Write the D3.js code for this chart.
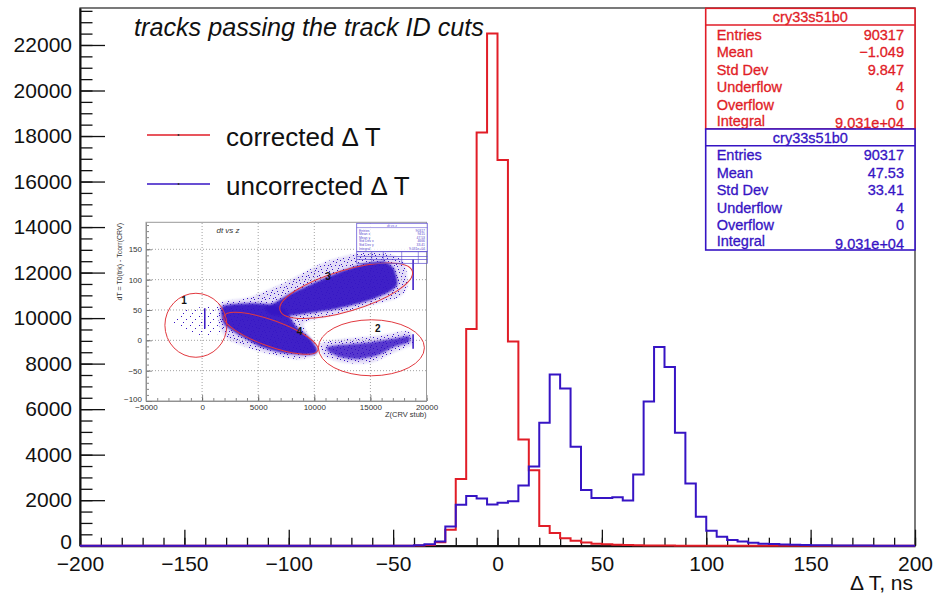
<!DOCTYPE html>
<html lang="en">
<head>
<meta charset="UTF-8" />
<title>Delta T</title>
<script src="https://cdn.jsdelivr.net/npm/d3@7"></script>
<style>
  body { margin: 0; background: #fff; }
  svg { display: block; font-family: "Liberation Sans", Arial, Helvetica, sans-serif; }
</style>
</head>
<body>
<svg id="chart" width="934" height="593"></svg>
<script>
// histogram binning: 80 bins of 5 ns from -200 to 200
const binStart = -200;
const binWidth = 5;

const corrected = [
  0, 0, 0, 0, 0, 0, 0, 0, 0, 0,
  0, 0, 0, 0, 0, 0, 0, 0, 0, 0,
  0, 0, 0, 0, 0, 0, 0, 0, 0, 0,
  0, 0, 5, 30, 150, 700, 2935, 9520, 18150, 22500,
  16950, 8970, 4665, 3310, 870, 555, 330, 215, 136, 90,
  60, 40, 28, 18, 12, 8, 5, 3, 2, 1,
  0, 0, 0, 0, 0, 0, 0, 0, 0, 0,
  0, 0, 0, 0, 0, 0, 0, 0, 0, 0
];
const uncorrected = [
  0, 0, 0, 0, 0, 0, 0, 0, 0, 0,
  0, 0, 0, 0, 0, 0, 0, 0, 0, 0,
  0, 0, 0, 0, 0, 0, 0, 0, 0, 0,
  0, 2, 15, 60, 180, 840, 1800, 2180, 2070, 1815,
  1890, 1950, 2650, 3480, 5400, 7520, 6910, 4345, 2450, 2095,
  2100, 2125, 1985, 3130, 6335, 8730, 7850, 4960, 2730, 1275,
  660, 395, 250, 180, 130, 90, 70, 50, 38, 28,
  20, 15, 10, 8, 5, 4, 3, 2, 2, 1
];

const xTicksMajor = [-200, -150, -100, -50, 0, 50, 100, 150, 200];
const yTicksMajor = [0, 2000, 4000, 6000, 8000, 10000, 12000, 14000, 16000, 18000, 20000, 22000];

const statLabels = ["Entries", "Mean", "Std Dev", "Underflow", "Overflow", "Integral"];
const statsCorrected = ["90317", "\u22121.049", "9.847", "4", "0", "9.031e+04"];
const statsUncorrected = ["90317", "47.53", "33.41", "4", "0", "9.031e+04"];
const statsName = "cry33s51b0";

// inset: dt vs z (regions, [z, dT])
const insetXTicks = [-5000, 0, 5000, 10000, 15000, 20000];
const insetYTicks = [-100, -50, 0, 50, 100, 150];
const coreLower = [[1881,57],[4269,61],[6060,59],[7254,52],[7851,38],[8448,22],[9642,3],[10239,-14],[10090,-22],[9045,-24],[7254,-21],[5164,-10],[3373,8],[2030,25],[1731,40]];
const coreUpper = [[5600,54],[6657,64],[7851,77],[9642,92],[12030,111],[14418,126],[16209,130],[17104,118],[17403,92],[16507,78],[14418,63],[12030,52],[9642,45],[7552,40],[6158,42]];
const coreRight = [[11134,-11],[12627,-7],[15015,-3],[17104,3],[18447,7],[18447,-3],[17104,-11],[15612,-25],[13821,-31],[12328,-28],[11283,-19]];
const haloMain = [[1582,61],[4269,71],[7254,94],[10836,128],[13821,143],[16507,143],[18000,128],[18298,89],[17403,70],[14418,55],[11134,39],[9045,27],[10239,-20],[8448,-31],[5164,-18],[2478,0],[1582,22]];
const haloRight = [[10537,-6],[12627,2],[15612,7],[18447,15],[18746,-6],[17104,-20],[15015,-37],[12627,-37],[10836,-26]];
const haloLeft = [[-1403,50],[1881,58],[2179,22],[687,6],[-1702,17],[-2896,33]];
const stripes = [[240, 19, 53], [18806, 83, 133], [18806, -14, 10]];
const ellipses = [
  { id: "1", z: -553, dt: 24.8, rx: 31, ry: 32, angle: 0, lz: -1607, ldt: 66 },
  { id: "2", z: 15089, dt: -12.3, rx: 53, ry: 28, angle: 0, lz: 15652, ldt: 20 },
  { id: "3", z: 12840, dt: 81.6, rx: 69, ry: 20.5, angle: -16.5, lz: 11224, ldt: 106 },
  { id: "4", z: 6134, dt: 11.6, rx: 50, ry: 13, angle: 20, lz: 8688, ldt: 14 }
];
const insetStats = [["Entries", "90317"], ["Mean x", "9415"], ["Mean y", "47.53"], ["Std Dev x", "4666"], ["Std Dev y", "33.41"], ["Integral", "9.031e+04"]];

const RED = "#e11d27";
const BLUE = "#3614c4";

const svg = d3.select("#chart");
const pLeft = 80, pRight = 915, pTop = 8, pBottom = 545.7;

const x = d3.scaleLinear().domain([-200, 200]).range([pLeft, pRight]);
const y = d3.scaleLinear().domain([0, 23625]).range([pBottom, pTop]);

svg.append("rect").attr("width", 934).attr("height", 593).attr("fill", "#fff");

// frame
svg.append("rect")
  .attr("x", pLeft).attr("y", pTop)
  .attr("width", pRight - pLeft).attr("height", pBottom - pTop)
  .attr("fill", "none").attr("stroke", "#222").attr("stroke-width", 1.2);

// minor ticks
svg.append("g")
  .attr("transform", "translate(0," + pBottom + ")")
  .call(d3.axisBottom(x).tickValues(d3.range(-200, 201, 10)).tickSizeInner(-8).tickSizeOuter(0).tickFormat(""))
  .call(g => g.select(".domain").remove())
  .selectAll("line").attr("stroke", "#111").attr("stroke-width", 1.3);
svg.append("g")
  .attr("transform", "translate(" + pLeft + ",0)")
  .call(d3.axisLeft(y).tickValues(d3.range(0, 23501, 500)).tickSizeInner(-12.5).tickSizeOuter(0).tickFormat(""))
  .call(g => g.select(".domain").remove())
  .selectAll("line").attr("stroke", "#111").attr("stroke-width", 1.3);

// major axes
const xAxis = svg.append("g")
  .attr("transform", "translate(0," + pBottom + ")")
  .call(d3.axisBottom(x).tickValues(xTicksMajor).tickSizeInner(-16).tickSizeOuter(0).tickPadding(10).tickFormat(d3.format("d")));
const yAxis = svg.append("g")
  .attr("transform", "translate(" + pLeft + ",0)")
  .call(d3.axisLeft(y).tickValues(yTicksMajor).tickSizeInner(-25).tickSizeOuter(0).tickPadding(8).tickFormat(d3.format("d")));
[xAxis, yAxis].forEach(a => {
  a.selectAll("line").attr("stroke", "#111").attr("stroke-width", 1.3);
  a.select(".domain").attr("stroke", "#111").attr("stroke-width", 2);
  a.selectAll("text").attr("font-size", 21).attr("fill", "#111").attr("font-family", null);
});
// the "0" label sits on the axis corner, lift it slightly as in the original
yAxis.selectAll(".tick").filter(d => d === 0).select("text").attr("dy", "0.12em");

// histograms
const step = d3.line().curve(d3.curveStepAfter).x(d => x(d[0])).y(d => y(d[1]));
function histPoints(vals) {
  const pts = vals.map((v, i) => [binStart + i * binWidth, v]);
  pts.push([binStart + vals.length * binWidth, vals[vals.length - 1]]);
  return pts;
}
svg.append("path").attr("d", step(histPoints(corrected)))
  .attr("fill", "none").attr("stroke", RED).attr("stroke-width", 2);
svg.append("path").attr("d", step(histPoints(uncorrected)))
  .attr("fill", "none").attr("stroke", BLUE).attr("stroke-width", 2);

// titles
svg.append("text").attr("x", 134).attr("y", 35.7)
  .attr("font-size", 25.2).attr("font-style", "italic").attr("fill", "#111")
  .text("tracks passing the track ID cuts");
svg.append("text").attr("x", 913).attr("y", 590)
  .attr("text-anchor", "end").attr("font-size", 21).attr("fill", "#111")
  .text("\u0394 T, ns");

// legend
const legend = [["corrected \u0394 T", RED, 135], ["uncorrected \u0394 T", BLUE, 184]];
legend.forEach(([label, col, ly]) => {
  svg.append("line").attr("x1", 147).attr("x2", 210).attr("y1", ly).attr("y2", ly)
    .attr("stroke", col).attr("stroke-width", 1.5);
  svg.append("circle").attr("cx", 178.5).attr("cy", ly).attr("r", 1).attr("fill", "#333");
  svg.append("text").attr("x", 226).attr("y", ly + 10.5)
    .attr("font-size", 26).attr("fill", "#111").text(label);
});

// stats boxes
function statsBox(y0, y1, col, values) {
  const bx = 705.7, bw = 209.3;
  svg.append("rect").attr("x", bx).attr("y", y0).attr("width", bw).attr("height", y1 - y0)
    .attr("fill", "#fff").attr("stroke", col).attr("stroke-width", 1.6);
  svg.append("line").attr("x1", bx).attr("x2", bx + bw).attr("y1", y0 + 16.7).attr("y2", y0 + 16.7)
    .attr("stroke", col).attr("stroke-width", 1.6);
  const t = svg.append("g").attr("fill", col).attr("stroke", col).attr("stroke-width", 0.3).attr("font-size", 14.5);
  t.append("text").attr("x", bx + bw / 2).attr("y", y0 + 8.6).attr("dy", "0.36em")
    .attr("text-anchor", "middle").text(statsName);
  statLabels.forEach((lab, i) => {
    const cy = y0 + 26 + i * 17.5 - (i === 5 ? 1.5 : 0);
    t.append("text").attr("x", 716.7).attr("y", cy).attr("dy", "0.36em").text(lab);
    t.append("text").attr("x", 904).attr("y", cy + (i === 5 ? 2.5 : 0)).attr("dy", "0.36em")
      .attr("text-anchor", "end").text(values[i]);
  });
}
statsBox(8.3, 129, RED, statsCorrected);
statsBox(129, 250, BLUE, statsUncorrected);

// ---------- inset: dt vs z ----------
const inset = svg.append("g");
const xi = d3.scaleLinear().domain([-5000, 20000]).range([146, 426.5]);
const yi = d3.scaleLinear().domain([-100, 194.5]).range([401, 222.3]);

inset.append("rect").attr("x", 118).attr("y", 219).attr("width", 324).attr("height", 200).attr("fill", "#fff");

const defs = svg.append("defs");
const pat = defs.append("pattern").attr("id", "speck").attr("patternUnits", "userSpaceOnUse")
  .attr("width", 11).attr("height", 11);
[[0, 0], [5, 1], [8, 4], [2, 5], [6, 9], [10, 7], [3, 8], [9, 1], [1, 2], [7, 6]].forEach(p =>
  pat.append("rect").attr("x", p[0]).attr("y", p[1]).attr("width", 1).attr("height", 1).attr("fill", BLUE));
const pat2 = defs.append("pattern").attr("id", "sparse").attr("patternUnits", "userSpaceOnUse")
  .attr("width", 9).attr("height", 9);
[[1, 1], [6, 4], [3, 7]].forEach(p =>
  pat2.append("rect").attr("x", p[0]).attr("y", p[1]).attr("width", 1).attr("height", 1).attr("fill", BLUE));
defs.append("filter").attr("id", "fuzz").attr("x", "-10%").attr("y", "-10%").attr("width", "120%").attr("height", "120%")
  .append("feGaussianBlur").attr("stdDeviation", 1.1);

// grid
inset.append("g").selectAll("line").data(insetXTicks.slice(1, -1)).join("line")
  .attr("x1", d => xi(d)).attr("x2", d => xi(d)).attr("y1", yi(-100)).attr("y2", yi(194.5))
  .attr("stroke", "#8a8a8a").attr("stroke-width", 0.8).attr("stroke-dasharray", "1,2");
inset.append("g").selectAll("line").data(insetYTicks.slice(1)).join("line")
  .attr("y1", d => yi(d)).attr("y2", d => yi(d)).attr("x1", xi(-5000)).attr("x2", xi(20000))
  .attr("stroke", "#8a8a8a").attr("stroke-width", 0.8).attr("stroke-dasharray", "1,2");

// scatter regions
const poly = d3.line().x(d => xi(d[0])).y(d => yi(d[1])).curve(d3.curveCardinalClosed.tension(0.3));
[haloMain, haloRight].forEach(h => {
  inset.append("path").attr("d", poly(h)).attr("fill", BLUE).attr("fill-opacity", 0.14).attr("filter", "url(#fuzz)");
  inset.append("path").attr("d", poly(h)).attr("fill", "url(#speck)");
});
inset.append("path").attr("d", poly(haloLeft)).attr("fill", "url(#sparse)");
const cores = inset.append("g").attr("filter", "url(#fuzz)");
cores.append("path").attr("d", poly(coreLower)).attr("fill", BLUE).attr("fill-opacity", 0.95);
cores.append("path").attr("d", poly(coreUpper)).attr("fill", BLUE).attr("fill-opacity", 0.95);
cores.append("path").attr("d", poly(coreRight)).attr("fill", BLUE).attr("fill-opacity", 0.8);
inset.selectAll(".stripe").data(stripes).join("line")
  .attr("x1", d => xi(d[0])).attr("x2", d => xi(d[0]))
  .attr("y1", d => yi(d[1])).attr("y2", d => yi(d[2]))
  .attr("stroke", BLUE).attr("stroke-width", 1.5);

// inset axes
const ix = inset.append("g").attr("transform", "translate(0," + yi(-100) + ")");
ix.call(d3.axisBottom(xi).tickValues(d3.range(-5000, 20001, 1000)).tickSizeInner(-3).tickSizeOuter(0).tickFormat(""));
const ix2 = inset.append("g").attr("transform", "translate(0," + yi(-100) + ")");
ix2.call(d3.axisBottom(xi).tickValues(insetXTicks).tickSizeInner(-6).tickSizeOuter(0).tickPadding(3).tickFormat(d3.format("d")));
const iy = inset.append("g").attr("transform", "translate(" + xi(-5000) + ",0)");
iy.call(d3.axisLeft(yi).tickValues(d3.range(-100, 191, 10)).tickSizeInner(-3).tickSizeOuter(0).tickFormat(""));
const iy2 = inset.append("g").attr("transform", "translate(" + xi(-5000) + ",0)");
iy2.call(d3.axisLeft(yi).tickValues(insetYTicks).tickSizeInner(-6).tickSizeOuter(0).tickPadding(4).tickFormat(d3.format("d")));
[ix, ix2, iy, iy2].forEach(a => {
  a.selectAll("line").attr("stroke", "#555").attr("stroke-width", 0.7);
  a.selectAll(".domain").attr("stroke", "#888");
  a.selectAll("text").attr("font-size", 8).attr("fill", "#333").attr("font-family", null);
});
iy2.selectAll(".tick").filter(d => d === -100).select("text").attr("dy", "0.1em");
inset.append("rect").attr("x", 146).attr("y", 222.3).attr("width", 280.5).attr("height", 178.7)
  .attr("fill", "none").attr("stroke", "#999").attr("stroke-width", 1);

inset.append("text").attr("x", 426.5).attr("y", 417).attr("text-anchor", "end")
  .attr("font-size", 7.5).attr("fill", "#333").text("Z(CRV stub)");
inset.append("text").attr("transform", "translate(122,223) rotate(-90)").attr("text-anchor", "end")
  .attr("font-size", 7).attr("fill", "#333").text("dT = T0(trk) - Tcorr(CRV)");
inset.append("text").attr("x", 228).attr("y", 233).attr("text-anchor", "middle")
  .attr("font-size", 8).attr("font-style", "italic").attr("fill", "#333").text("dt vs z");

// ellipses with labels
ellipses.forEach(e => {
  inset.append("ellipse")
    .attr("transform", "translate(" + xi(e.z) + "," + yi(e.dt) + ") rotate(" + e.angle + ")")
    .attr("rx", e.rx).attr("ry", e.ry)
    .attr("fill", "none").attr("stroke", "#e2393f").attr("stroke-width", 1);
  inset.append("text").attr("x", xi(e.lz)).attr("y", yi(e.ldt)).attr("dy", "0.36em")
    .attr("text-anchor", "middle").attr("font-size", 10).attr("font-weight", "bold")
    .attr("fill", "#111").text(e.id);
});

// inset stats box
const sb = inset.append("g");
sb.append("rect").attr("x", 356.7).attr("y", 223.3).attr("width", 70.6).attr("height", 28.4)
  .attr("fill", "#fff").attr("fill-opacity", 0.85).attr("stroke", "#6a5ad8").attr("stroke-width", 0.8);
sb.append("line").attr("x1", 356.7).attr("x2", 427.3).attr("y1", 227.6).attr("y2", 227.6)
  .attr("stroke", "#6a5ad8").attr("stroke-width", 0.6);
sb.append("text").attr("x", 392).attr("y", 226.6).attr("text-anchor", "middle")
  .attr("font-size", 3.5).attr("fill", "#6a5ad8").text("dt vs z");
insetStats.forEach((r, i) => {
  const ry = 231.5 + i * 3.6;
  sb.append("text").attr("x", 359).attr("y", ry).attr("font-size", 3.4).attr("fill", "#5a4ad0").text(r[0]);
  sb.append("text").attr("x", 425).attr("y", ry).attr("text-anchor", "end").attr("font-size", 3.4).attr("fill", "#5a4ad0").text(r[1]);
});
sb.append("rect").attr("x", 356.7).attr("y", 251.7).attr("width", 70.6).attr("height", 11.6)
  .attr("fill", "none").attr("stroke", "#5a4ad0").attr("stroke-width", 0.7);
[256.5, 259.5].forEach(v => sb.append("line").attr("x1", 356.7).attr("x2", 427.3).attr("y1", v).attr("y2", v)
  .attr("stroke", "#5a4ad0").attr("stroke-width", 0.7));
[371.7, 383.3, 401.7, 418.3].forEach(v => sb.append("line").attr("x1", v).attr("x2", v).attr("y1", 251.7).attr("y2", 263.3)
  .attr("stroke", "#5a4ad0").attr("stroke-width", 0.6));
</script>
</body>
</html>
